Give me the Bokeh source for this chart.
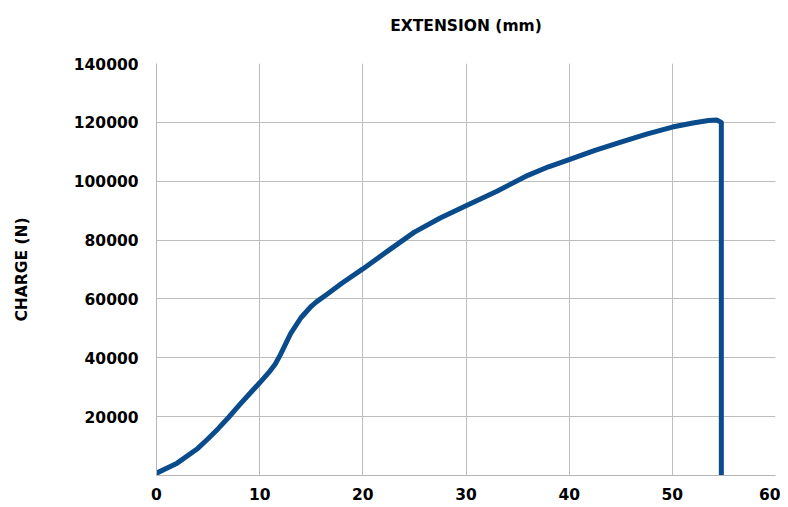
from bokeh.plotting import figure
from bokeh.models import FixedTicker, Range1d, BasicTickFormatter, LinearAxis
from bokeh.embed import file_html
from bokeh.resources import INLINE

extension_mm = [0, 2, 4, 5, 6, 7, 8, 9, 10, 11, 11.5, 12, 13, 14, 15, 15.5, 16.5, 18,
                20, 22.5, 25, 27.5, 30, 33, 36, 38, 40, 42.5, 45, 47.5, 50, 52, 53.5,
                54.3, 54.75, 54.75]
charge_n = [800, 4200, 9200, 12500, 16000, 19800, 23800, 27700, 31500, 35500, 37800,
            41000, 48200, 53600, 57500, 59000, 61500, 65400, 70200, 76500, 82700, 87500,
            91700, 96600, 102000, 104900, 107300, 110500, 113300, 116000, 118400,
            119800, 120600, 120800, 120000, 0]

x_ticks = [0, 10, 20, 30, 40, 50, 60]
y_ticks = [20000, 40000, 60000, 80000, 100000, 120000, 140000]
x_grid = [10, 20, 30, 40, 50]
y_grid = [20000, 40000, 60000, 80000, 100000, 120000]

FONT = "DejaVu Sans"
FS = "15.5px"

p = figure(width=780, height=505, output_backend="svg", toolbar_location=None,
           x_range=Range1d(0, 60), y_range=Range1d(0, 140000),
           min_border_left=156, min_border_right=5, min_border_top=63,
           min_border_bottom=30)
p.outline_line_color = None
p.background_fill_color = "white"

bottom_axis = p.below[0]
left_axis = p.left[0]

top_axis = LinearAxis(ticker=FixedTicker(ticks=[]), axis_label="EXTENSION (mm)",
                      axis_line_color=None, major_tick_line_color=None,
                      minor_tick_line_color=None, major_tick_out=0, major_tick_in=0,
                      minor_tick_out=0, minor_tick_in=0, axis_label_standoff=29,
                      axis_label_text_font=FONT, axis_label_text_font_size=FS,
                      axis_label_text_font_style="bold", axis_label_text_color="black")
p.add_layout(top_axis, "above")

p.line(extension_mm, charge_n, line_color="#0a4b8c", line_width=5,
       line_join="round", line_cap="round")

for ax in (bottom_axis, left_axis):
    ax.major_tick_line_color = None
    ax.minor_tick_line_color = None
    ax.major_tick_out = 0
    ax.major_tick_in = 0
    ax.minor_tick_out = 0
    ax.minor_tick_in = 0
    ax.axis_line_color = "#b5b5b5"
    ax.major_label_text_font = FONT
    ax.major_label_text_font_size = FS
    ax.major_label_text_font_style = "bold"
    ax.major_label_text_color = "black"
    ax.axis_label_text_font = FONT
    ax.axis_label_text_font_size = FS
    ax.axis_label_text_font_style = "bold"
    ax.axis_label_text_color = "black"

bottom_axis.ticker = FixedTicker(ticks=x_ticks)
bottom_axis.major_label_standoff = 12
bottom_axis.axis_label_standoff = 0
left_axis.ticker = FixedTicker(ticks=y_ticks)
left_axis.formatter = BasicTickFormatter(use_scientific=False)
left_axis.major_label_standoff = 18
left_axis.axis_label = "CHARGE (N)"
left_axis.axis_label_standoff = 40
left_axis.major_label_orientation = "horizontal"

p.xgrid.ticker = FixedTicker(ticks=x_grid)
p.ygrid.ticker = FixedTicker(ticks=y_grid)
p.grid.grid_line_color = "#bdbdbd"
p.grid.grid_line_width = 1

open("out.html", "w").write(file_html(p, INLINE))
